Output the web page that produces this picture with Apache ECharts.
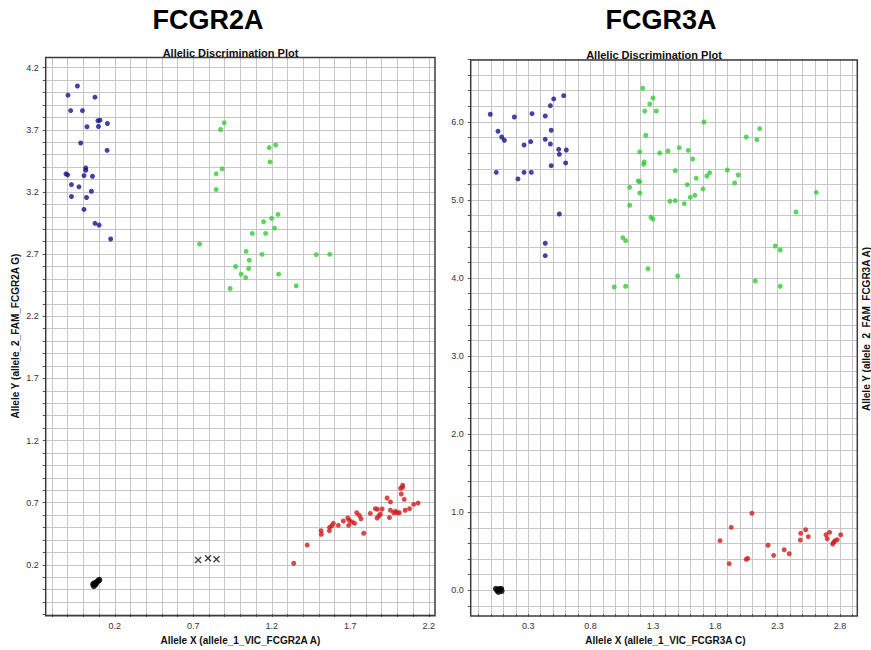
<!DOCTYPE html>
<html>
<head>
<meta charset="utf-8">
<script src="https://cdn.jsdelivr.net/npm/echarts@6/dist/echarts.min.js"></script>
<style>html,body{margin:0;padding:0;background:#fff}#c{width:871px;height:650px}</style>
</head>
<body>
<div id="c"></div>
<script>
// ---------- FCGR2A (left panel) ----------
const fcgr2aBlue = [[-0.038,4.053],[-0.098,3.979],[0.074,3.963],[-0.081,3.855],[-0.006,3.855],[0.093,3.773],[0.106,3.778],[0.153,3.751],[0.096,3.727],[0.023,3.725],[-0.017,3.594],[0.151,3.535],[0.015,3.394],[0.015,3.375],[-0.111,3.346],[-0.100,3.338],[0.004,3.332],[0.058,3.327],[-0.076,3.260],[-0.028,3.242],[0.051,3.206],[-0.076,3.164],[0.020,3.156],[0.004,3.060],[0.074,2.948],[0.100,2.934],[0.174,2.822]];
const fcgr2aGreen = [[0.897,3.757],[0.874,3.703],[1.225,3.578],[1.184,3.557],[1.189,3.442],[0.884,3.386],[0.846,3.346],[0.846,3.220],[1.240,3.020],[1.199,2.988],[1.148,2.961],[1.218,2.910],[1.076,2.867],[1.161,2.867],[0.740,2.782],[1.037,2.723],[1.138,2.699],[1.484,2.697],[1.569,2.699],[1.057,2.651],[0.970,2.601],[1.053,2.585],[1.005,2.539],[1.244,2.539],[1.034,2.512],[1.356,2.445],[0.935,2.424]];
const fcgr2aRed = [[1.340,0.214],[1.426,0.361],[1.514,0.476],[1.516,0.447],[1.569,0.503],[1.567,0.476],[1.582,0.514],[1.592,0.535],[1.624,0.519],[1.656,0.554],[1.684,0.578],[1.694,0.560],[1.690,0.519],[1.711,0.546],[1.728,0.535],[1.741,0.620],[1.758,0.599],[1.769,0.572],[1.786,0.455],[1.828,0.615],[1.860,0.653],[1.873,0.648],[1.871,0.578],[1.882,0.594],[1.892,0.610],[1.903,0.650],[1.935,0.739],[1.956,0.707],[1.950,0.581],[1.956,0.640],[1.977,0.620],[1.988,0.631],[1.999,0.620],[2.013,0.620],[2.025,0.771],[2.021,0.817],[2.034,0.841],[2.034,0.825],[2.044,0.728],[2.050,0.640],[2.078,0.653],[2.104,0.688],[2.132,0.698]];
const fcgr2aNTC = [[0.062,0.045],[0.066,0.030],[0.070,0.055],[0.075,0.040],[0.080,0.050],[0.088,0.066],[0.096,0.074],[0.102,0.080]];
const fcgr2aUndetermined = [[0.731,0.240],[0.794,0.254],[0.848,0.246]];
const fcgr2aXTicks = [0.2,0.7,1.2,1.7,2.2];
const fcgr2aYTicks = [0.2,0.7,1.2,1.7,2.2,2.7,3.2,3.7,4.2];

// ---------- FCGR3A (right panel) ----------
const fcgr3aBlue = [[0.584,6.337],[0.504,6.295],[0.477,6.209],[-0.005,6.099],[0.188,6.064],[0.330,6.106],[0.436,6.077],[0.057,5.881],[0.087,5.808],[0.108,5.766],[0.484,5.894],[0.266,5.705],[0.319,5.748],[0.436,5.778],[0.477,5.718],[0.544,5.650],[0.605,5.641],[0.549,5.586],[0.600,5.475],[0.484,5.440],[0.043,5.355],[0.266,5.355],[0.324,5.355],[0.217,5.270],[0.549,4.821],[0.436,4.446],[0.436,4.287]];
const fcgr3aGreen = [[1.218,6.432],[1.300,6.307],[1.274,6.231],[1.234,6.141],[1.327,6.141],[1.709,6.000],[1.242,5.830],[1.194,5.616],[1.354,5.603],[1.421,5.628],[1.511,5.671],[1.583,5.637],[1.619,5.526],[1.230,5.488],[1.225,5.458],[1.479,5.376],[1.755,5.350],[1.733,5.308],[1.647,5.279],[1.182,5.244],[1.194,5.235],[1.575,5.197],[1.113,5.163],[1.701,5.142],[1.194,5.090],[1.636,5.061],[1.599,5.035],[1.436,4.984],[1.479,4.992],[1.551,4.953],[1.113,4.933],[1.284,4.779],[1.300,4.757],[1.058,4.518],[1.081,4.479],[1.260,4.120],[1.498,4.027],[0.989,3.886],[1.081,3.895],[2.156,5.914],[2.048,5.808],[2.134,5.773],[1.896,5.385],[1.984,5.321],[1.955,5.218],[2.610,5.099],[2.447,4.847],[2.281,4.411],[2.321,4.360],[2.121,3.963],[2.321,3.895]];
const fcgr3aRed = [[2.094,0.987],[1.928,0.807],[1.838,0.636],[1.912,0.341],[2.048,0.397],[2.060,0.410],[2.223,0.577],[2.268,0.448],[2.353,0.520],[2.393,0.469],[2.485,0.730],[2.525,0.776],[2.546,0.687],[2.482,0.644],[2.688,0.712],[2.717,0.743],[2.698,0.661],[2.806,0.712],[2.749,0.615],[2.760,0.636],[2.778,0.648],[2.741,0.593]];
const fcgr3aNTC = [[0.040,0.020],[0.050,0.000],[0.060,-0.020],[0.065,0.015],[0.075,0.010],[0.082,0.020],[0.086,-0.010]];
const fcgr3aXTicks = [0.3,0.8,1.3,1.8,2.3,2.8];
const fcgr3aYTicks = [0,1,2,3,4,5,6];

const FONT = '"Liberation Sans", Arial, sans-serif';
const GRIDLINE = '#c6c6c6';
const BLUE = '#14148c', GREEN = '#33cc33', RED = '#d01c1c', BLACK = '#000000';

function fmt(list) {
  return function (v) {
    return list.some(t => Math.abs(t - v) < 1e-6) ? Number(v).toFixed(1) : '';
  };
}
const hidden = (gi, mn, mx) => ({ type: 'value', gridIndex: gi, show: false, min: mn, max: mx });
function tickAxis(gi, mn, mx, iv, list, pos) {
  return {
    type: 'value', gridIndex: gi, min: mn, max: mx, interval: iv, position: pos,
    axisLine: { show: false },
    axisTick: { show: true, inside: false, length: 3, lineStyle: { color: '#555', width: 1 } },
    splitLine: { show: true, lineStyle: { color: GRIDLINE, width: 1 } },
    axisLabel: { show: true, margin: 7, fontSize: 9, color: '#333', fontFamily: FONT, formatter: fmt(list) }
  };
}
const dataGrid = (l, t, w, h) => ({ left: l, top: t, width: w, height: h, show: true, backgroundColor: 'transparent', borderColor: '#3c3c3c', borderWidth: 1.5, z: 3 });
const plainGrid = (l, t, w, h) => ({ left: l, top: t, width: w, height: h, show: false });

const chart = echarts.init(document.getElementById('c'), null, { renderer: 'svg' });

function sc(name, data, xi, yi, color, size, symbol) {
  return { type: 'scatter', name, data, xAxisIndex: xi, yAxisIndex: yi, symbol: symbol || 'circle', symbolSize: size,
    itemStyle: { color: color }, z: 5, silent: true };
}
const cross = 'path://M0 0L10 10M10 0L0 10';

chart.setOption({
  backgroundColor: '#ffffff',
  animation: false,
  title: [
    { text: 'FCGR2A', left: 208, top: 20, textAlign: 'center', textVerticalAlign: 'middle', padding: 0, textStyle: { fontSize: 27, fontWeight: 'bold', fontFamily: FONT, color: '#000' } },
    { text: 'FCGR3A', left: 661, top: 20, textAlign: 'center', textVerticalAlign: 'middle', padding: 0, textStyle: { fontSize: 27, fontWeight: 'bold', fontFamily: FONT, color: '#000' } },
    { text: 'Allelic Discrimination Plot', left: 230.5, top: 52.5, textAlign: 'center', textVerticalAlign: 'middle', padding: 0, textStyle: { fontSize: 11, fontWeight: 'bold', fontFamily: FONT, color: '#111' } },
    { text: 'Allelic Discrimination Plot', left: 654, top: 54.5, textAlign: 'center', textVerticalAlign: 'middle', padding: 0, textStyle: { fontSize: 11, fontWeight: 'bold', fontFamily: FONT, color: '#111' } }
  ],
  grid: [
    dataGrid(45.7, 57.5, 389.3, 558.2),      // 0 left data
    plainGrid(52.0, 57.5, 376.75, 558.2),    // 1 left x ticks
    plainGrid(45.7, 67.7, 389.3, 546.9),     // 2 left y ticks
    dataGrid(470.7, 60, 386.6, 556),         // 3 right data
    plainGrid(478.4, 60, 374.0, 556),        // 4 right x ticks
    plainGrid(470.7, 59.5, 386.6, 546.4)     // 5 right y ticks
  ],
  xAxis: [
    hidden(0, -0.24, 2.24),
    Object.assign(tickAxis(1, -0.2, 2.2, 0.1, fcgr2aXTicks, 'bottom'), {
      name: 'Allele X (allele_1_VIC_FCGR2A A)', nameLocation: 'middle', nameGap: 21,
      nameTextStyle: { fontSize: 10, fontWeight: 'bold', fontFamily: FONT, color: '#111' } }),
    hidden(2, 0, 1),
    hidden(3, -0.162, 2.939),
    Object.assign(tickAxis(4, -0.1, 2.9, 0.1, fcgr3aXTicks, 'bottom'), {
      name: 'Allele X (allele_1_VIC_FCGR3A C)', nameLocation: 'middle', nameGap: 21,
      nameTextStyle: { fontSize: 10, fontWeight: 'bold', fontFamily: FONT, color: '#111' } }),
    hidden(5, 0, 1)
  ],
  yAxis: [
    hidden(0, -0.208, 4.282),
    hidden(1, 0, 1),
    tickAxis(2, -0.2, 4.2, 0.1, fcgr2aYTicks, 'left'),
    hidden(3, -0.329, 6.794),
    hidden(4, 0, 1),
    tickAxis(5, -0.2, 6.8, 0.2, fcgr3aYTicks, 'left')
  ],
  graphic: [
    { type: 'text', x: 15, y: 336, rotation: Math.PI / 2, silent: true,
      style: { text: 'Allele Y (allele_2_FAM_FCGR2A G)', font: 'bold 10px ' + FONT, fill: '#111', align: 'center', verticalAlign: 'middle', textAlign: 'center', textVerticalAlign: 'middle' } },
    { type: 'text', x: 866, y: 329, rotation: Math.PI / 2, silent: true,
      style: { text: 'Allele Y (allele_2_FAM_FCGR3A A)', font: 'bold 10px ' + FONT, fill: '#111', align: 'center', verticalAlign: 'middle', textAlign: 'center', textVerticalAlign: 'middle' } }
  ],
  series: [
    sc('FCGR2A allele 2', fcgr2aBlue, 0, 0, BLUE, 5),
    sc('FCGR2A heterozygous', fcgr2aGreen, 0, 0, GREEN, 5),
    sc('FCGR2A allele 1', fcgr2aRed, 0, 0, RED, 5),
    sc('FCGR2A NTC', fcgr2aNTC, 0, 0, BLACK, 6),
    { type: 'scatter', name: 'FCGR2A undetermined', data: fcgr2aUndetermined, xAxisIndex: 0, yAxisIndex: 0,
      symbol: cross, symbolSize: 6, itemStyle: { color: 'transparent', borderColor: '#111', borderWidth: 1.4 }, z: 5, silent: true },
    sc('FCGR3A allele 2', fcgr3aBlue, 3, 3, BLUE, 5),
    sc('FCGR3A heterozygous', fcgr3aGreen, 3, 3, GREEN, 5),
    sc('FCGR3A allele 1', fcgr3aRed, 3, 3, RED, 5),
    sc('FCGR3A NTC', fcgr3aNTC, 3, 3, BLACK, 6)
  ]
});
</script>
</body>
</html>
